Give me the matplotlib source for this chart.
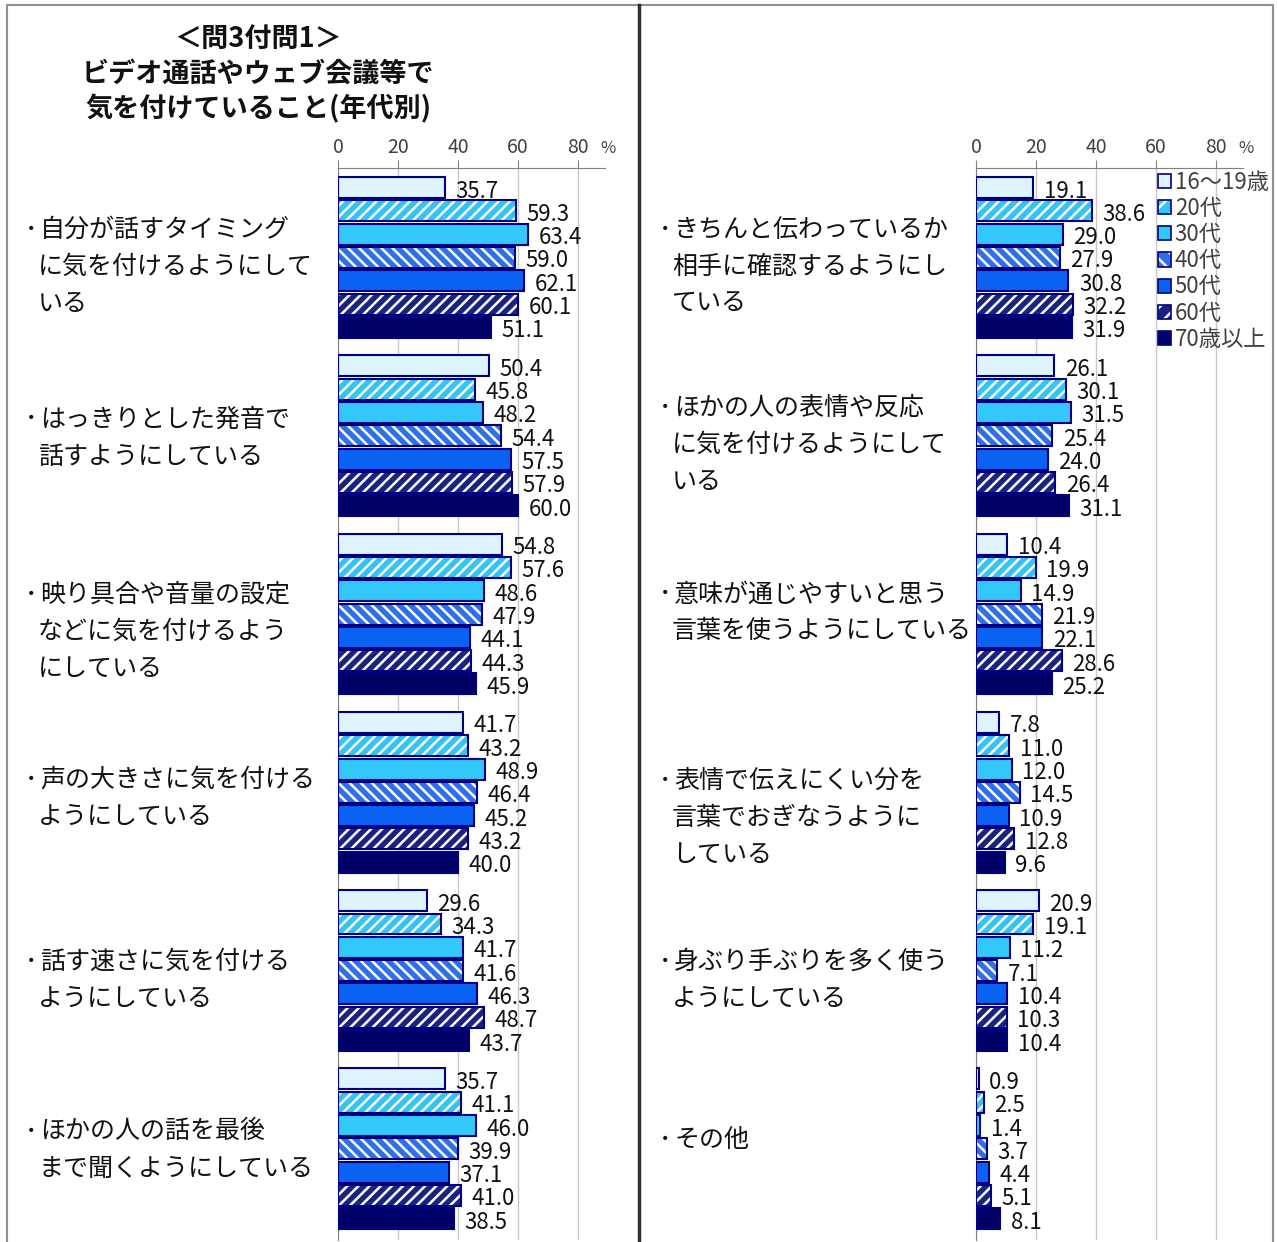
import matplotlib
matplotlib.use('Agg')
import matplotlib.pyplot as plt
from matplotlib.patches import Patch
from matplotlib.lines import Line2D
from matplotlib.transforms import blended_transform_factory

plt.rcParams['font.family'] = ['Noto Sans CJK JP', 'DejaVu Sans']
plt.rcParams['hatch.linewidth'] = 1.8

# データ
ages = ['16〜19歳', '20代', '30代', '40代', '50代', '60代', '70歳以上']

left_items = [
    ['自分が話すタイミング', 'に気を付けるようにして', 'いる'],
    ['はっきりとした発音で', '話すようにしている'],
    ['映り具合や音量の設定', 'などに気を付けるよう', 'にしている'],
    ['声の大きさに気を付ける', 'ようにしている'],
    ['話す速さに気を付ける', 'ようにしている'],
    ['ほかの人の話を最後', 'まで聞くようにしている'],
]
left_values = [
    [35.7, 59.3, 63.4, 59.0, 62.1, 60.1, 51.1],
    [50.4, 45.8, 48.2, 54.4, 57.5, 57.9, 60.0],
    [54.8, 57.6, 48.6, 47.9, 44.1, 44.3, 45.9],
    [41.7, 43.2, 48.9, 46.4, 45.2, 43.2, 40.0],
    [29.6, 34.3, 41.7, 41.6, 46.3, 48.7, 43.7],
    [35.7, 41.1, 46.0, 39.9, 37.1, 41.0, 38.5],
]

right_items = [
    ['きちんと伝わっているか', '相手に確認するようにし', 'ている'],
    ['ほかの人の表情や反応', 'に気を付けるようにして', 'いる'],
    ['意味が通じやすいと思う', '言葉を使うようにしている'],
    ['表情で伝えにくい分を', '言葉でおぎなうように', 'している'],
    ['身ぶり手ぶりを多く使う', 'ようにしている'],
    ['その他'],
]
right_values = [
    [19.1, 38.6, 29.0, 27.9, 30.8, 32.2, 31.9],
    [26.1, 30.1, 31.5, 25.4, 24.0, 26.4, 31.1],
    [10.4, 19.9, 14.9, 21.9, 22.1, 28.6, 25.2],
    [7.8, 11.0, 12.0, 14.5, 10.9, 12.8, 9.6],
    [20.9, 19.1, 11.2, 7.1, 10.4, 10.3, 10.4],
    [0.9, 2.5, 1.4, 3.7, 4.4, 5.1, 8.1],
]

# 스타일
face_colors = ['#DDF3FD', '#33C4F5', '#33C8FA', '#2F6FE8', '#0A62F2', '#1C237E', '#000066']
hatches = [None, '///', None, '\\\\\\', None, '///', None]
EDGE = '#000080'

# 항목 라벨의 세로 중심 (픽셀)
left_label_y = [267, 438, 632, 798, 980, 1150]
right_label_y = [267, 445, 613, 818, 980, 1140]

W, H = 1277, 1242
fig = plt.figure(figsize=(W / 100, H / 100), dpi=100)


def fx(x):
    return x / W


def fy(y):
    return 1 - y / H


def draw_panel(x0, items, values, label_x, label_y):
    ax = fig.add_axes([fx(x0), fy(1240), fx(267), 1072 / H])
    for g, vals in enumerate(values):
        for i, v in enumerate(vals):
            y = 0.84 + g * 7.65 + i
            ax.barh(y, v, height=0.9, color=face_colors[i],
                    edgecolor='white' if hatches[i] else face_colors[i],
                    hatch=hatches[i], linewidth=0, zorder=2)
            ax.barh(y, v, height=0.9, fill=False, edgecolor=EDGE,
                    linewidth=1.5, zorder=3)
            ax.text(v + 3.5, y + 0.15, f'{v:.1f}', va='center', ha='left',
                    fontsize=16, color='#111111', zorder=4)
    ax.set_xlim(0, 89)
    ax.set_ylim(46, 0)
    ax.set_yticks([])
    ax.xaxis.tick_top()
    ax.set_xticks([0, 20, 40, 60, 80])
    ax.tick_params(axis='x', direction='out', length=6, color='#808080',
                   labelsize=14, labelcolor='#404040', pad=1)
    ax.grid(axis='x', color='#C8C8C8', linewidth=1, zorder=0)
    for s in ['right', 'bottom']:
        ax.spines[s].set_visible(False)
    ax.spines['top'].set_color('#808080')
    ax.spines['left'].set_color('#808080')
    tr = blended_transform_factory(ax.transData, ax.transAxes)
    ax.text(87.5, 1.018, '%', transform=tr, fontsize=12, color='#404040',
            ha='left', va='center')

    # 항목 라벨
    for g, lines in enumerate(items):
        n = len(lines)
        top = label_y[g] - (n - 1) * 37 / 2
        fig.text(fx(label_x - 13), fy(top), '･', fontsize=18,
                 ha='left', va='center', color='#111111')
        for k, line in enumerate(lines):
            xx = label_x + 2 if k == 0 else label_x
            fig.text(fx(xx), fy(top + k * 37), line, fontsize=18, ha='left',
                     va='center', color='#111111')
    return ax


ax_l = draw_panel(338, left_items, left_values, 38, left_label_y)
ax_r = draw_panel(976, right_items, right_values, 672, right_label_y)

# 범례
handles = []
for i in range(len(ages)):
    if hatches[i]:
        h = (Patch(facecolor=face_colors[i], edgecolor='white', hatch=hatches[i][:2], linewidth=0),
             Patch(fill=False, edgecolor=EDGE, linewidth=1.2))
    else:
        h = Patch(facecolor=face_colors[i], edgecolor=EDGE, linewidth=1.2)
    handles.append(h)
fig.legend(handles, ages, loc='upper left', bbox_to_anchor=(fx(1158), fy(171)),
           frameon=False, fontsize=16, handlelength=0.6, handleheight=0.6,
           handletextpad=0.15, labelspacing=0.14, borderpad=0, borderaxespad=0,
           labelcolor='#404040')

# 제목
fig.text(fx(258), fy(74), '＜問3付問1＞\nビデオ通話やウェブ会議等で\n気を付けていること(年代別)',
         ha='center', va='center', fontsize=19.5, fontweight='bold',
         linespacing=1.3, color='#111111')

# 테두리
for xs, ys, c, lw in [([7, 1273], [5, 5], '#909090', 1.5),
                      ([7, 7], [5, 1242], '#909090', 1.5),
                      ([1273, 1273], [5, 1242], '#909090', 1.5),
                      ([639, 639], [5, 1242], '#303030', 2.5)]:
    fig.add_artist(Line2D([fx(x) for x in xs], [fy(y) for y in ys], color=c, linewidth=lw))

fig.savefig('out.png', dpi=100)
